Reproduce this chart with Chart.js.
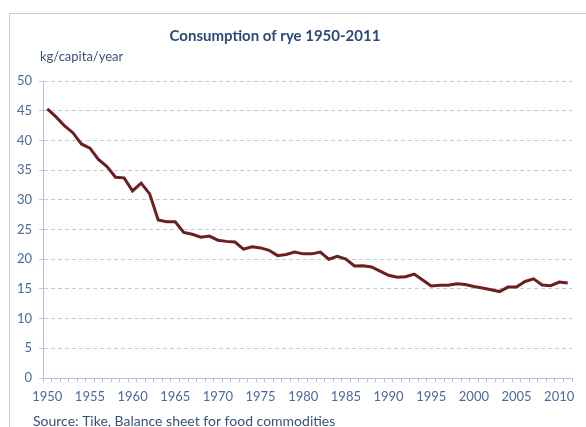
<!DOCTYPE html>
<html>
<head>
<meta charset="utf-8">
<script src="https://cdn.jsdelivr.net/npm/chart.js@4"></script>
<style>
  html, body { margin: 0; padding: 0; background: #ffffff; }
  #wrap { position: relative; width: 586px; height: 427px; }
  canvas { display: block; }
</style>
</head>
<body>
<div id="wrap"><canvas id="c" width="586" height="427"></canvas></div>
<script>
const chartTitle = "Consumption of rye 1950-2011";
const unitLabel = "kg/capita/year";
const sourceLabel = "Source: Tike, Balance sheet for food commodities";

const years = [
  "1950","1951","1952","1953","1954","1955","1956","1957","1958","1959",
  "1960","1961","1962","1963","1964","1965","1966","1967","1968","1969",
  "1970","1971","1972","1973","1974","1975","1976","1977","1978","1979",
  "1980","1981","1982","1983","1984","1985","1986","1987","1988","1989",
  "1990","1991","1992","1993","1994","1995","1996","1997","1998","1999",
  "2000","2001","2002","2003","2004","2005","2006","2007","2008","2009",
  "2010","2011"
];

const ryeConsumption = [
  45.3, 44.0, 42.5, 41.3, 39.4, 38.7, 36.8, 35.6, 33.8, 33.7,
  31.5, 32.8, 31.0, 26.6, 26.3, 26.3, 24.5, 24.2, 23.7, 23.9,
  23.2, 23.0, 22.9, 21.7, 22.1, 21.9, 21.5, 20.6, 20.8, 21.2,
  20.9, 20.9, 21.2, 20.0, 20.5, 20.0, 18.85, 18.9, 18.7, 18.0,
  17.3, 16.95, 17.05, 17.5, 16.5, 15.5, 15.6, 15.6, 15.85, 15.75,
  15.4, 15.15, 14.85, 14.55, 15.3, 15.3, 16.25, 16.7, 15.65, 15.55,
  16.15, 16.0
];

const yTicks = [0, 5, 10, 15, 20, 25, 30, 35, 40, 45, 50];
const labelEvery = 5;

const FONT = "Lato, 'Open Sans', 'DejaVu Sans', sans-serif";

const decorPlugin = {
  id: 'decor',
  beforeDraw(chart) {
    const ctx = chart.ctx;
    ctx.save();
    ctx.strokeStyle = '#b9cde5';
    ctx.lineWidth = 1;
    ctx.beginPath();
    ctx.moveTo(9.5, 440);
    ctx.lineTo(9.5, 13.5);
    ctx.lineTo(600, 13.5);
    ctx.stroke();
    ctx.restore();
  },
  afterDraw(chart) {
    const ctx = chart.ctx;
    ctx.save();
    ctx.textBaseline = 'middle';
    ctx.fillStyle = '#2c4a78';
    ctx.font = 'bold 15px ' + FONT;
    ctx.textAlign = 'center';
    ctx.fillText(chartTitle, 275, 36);
    ctx.fillStyle = '#3a5275';
    ctx.font = '13px ' + FONT;
    ctx.textAlign = 'left';
    ctx.fillText(unitLabel, 40, 57);
    ctx.font = '14px ' + FONT;
    ctx.fillText(sourceLabel, 33, 421);
    ctx.restore();
  }
};

new Chart(document.getElementById('c'), {
  type: 'line',
  data: {
    labels: years,
    datasets: [{
      label: 'Rye',
      data: ryeConsumption,
      borderColor: '#6b1f1f',
      borderWidth: 3,
      pointRadius: 0,
      tension: 0,
      fill: false
    }]
  },
  options: {
    responsive: false,
    devicePixelRatio: 1,
    animation: false,
    layout: { padding: { left: 0, right: 14, top: 81, bottom: 0 } },
    plugins: {
      legend: { display: false },
      title: { display: false },
      tooltip: { enabled: false }
    },
    scales: {
      x: {
        type: 'category',
        offset: true,
        afterFit(scale) { scale.height = 49; },
        grid: {
          display: true,
          offset: true,
          drawOnChartArea: false,
          drawTicks: true,
          tickLength: 4,
          color: '#a9c1df',
          tickColor: '#a9c1df'
        },
        border: { display: true, color: '#a9c1df', width: 1 },
        ticks: {
          autoSkip: false,
          maxRotation: 0,
          minRotation: 0,
          padding: 7,
          color: '#4a6a9c',
          font: { family: FONT, size: 13 },
          callback(value, index) {
            const lab = years[index];
            return (parseInt(lab, 10) % labelEvery === 0) ? lab : '';
          }
        }
      },
      y: {
        min: 0,
        max: 50,
        afterFit(scale) { scale.width = 43; },
        afterBuildTicks(scale) { scale.ticks = yTicks.map(v => ({ value: v })); },
        grid: {
          color: '#b9cbe6',
          lineWidth: 1,
          drawTicks: true,
          tickLength: 4,
          tickColor: '#b9cbe6'
        },
        border: { display: true, color: '#a9c1df', width: 1, dash: [4, 3] },
        ticks: {
          padding: 7,
          color: '#4a6a9c',
          font: { family: FONT, size: 13 }
        }
      }
    }
  },
  plugins: [decorPlugin]
});
</script>
</body>
</html>
